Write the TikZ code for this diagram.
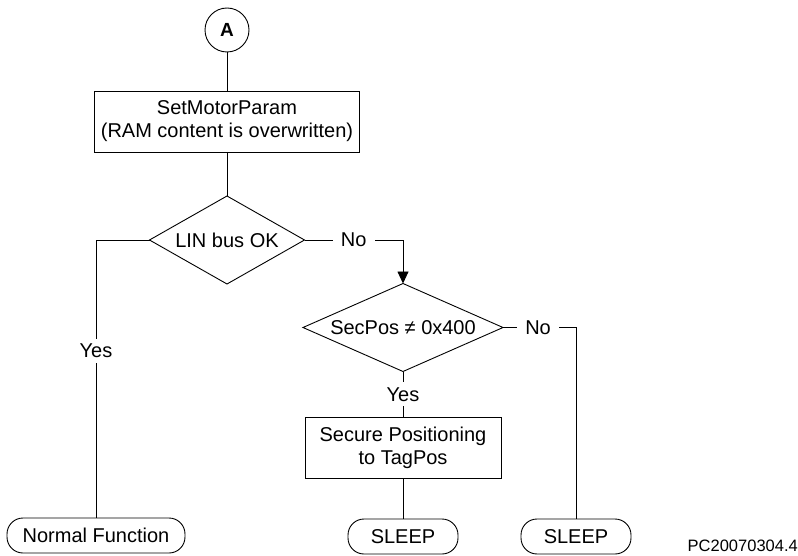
\documentclass[tikz,border=0pt]{standalone}
\usepackage{fontspec}
\setmainfont{Liberation Sans}
\usetikzlibrary{shapes.geometric,arrows.meta}

\tikzset{
  flow/.style={draw, line width=0.9pt, outer sep=0pt, inner sep=0pt,
               font=\fontsize{20}{23}\selectfont, align=center},
  connector/.style={circle, flow, minimum size=44pt,
               font=\fontsize{19}{22}\bfseries},
  procbox/.style={rectangle, flow},
  decision/.style={diamond, flow, aspect=2},
  terminal/.style={rectangle, flow, rounded corners=16pt, minimum height=35pt},
  link/.style={line width=0.9pt},
  arrowlink/.style={link, -{Triangle[length=12pt,width=11pt]}},
  edgelabel/.style={fill=white, inner xsep=8pt, inner ysep=5pt,
               font=\fontsize{20}{23}\selectfont}
}

\begin{document}
\begin{tikzpicture}[x=1pt, y=-1pt]
  \useasboundingbox (0,0) rectangle (798,556);

  % main column
  \node[connector] (A) at (227,30) {A};
  \node[procbox, minimum width=265pt, minimum height=61pt] (smp) at (227,121.5)
    {SetMotorParam\\(RAM content is overwritten)};
  \node[decision, minimum width=155pt, minimum height=88pt] (lin) at (227,240)
    {LIN bus OK};

  % right branch
  \node[decision, minimum width=200pt, minimum height=88pt] (sec) at (403,327.5)
    {SecPos ≠ 0x400};
  \node[procbox, minimum width=196pt, minimum height=61pt] (pos) at (403,447.5)
    {Secure Positioning\\to TagPos};

  % end states
  \node[terminal, minimum width=178pt] (nf) at (96,535.5) {Normal Function};
  \node[terminal, minimum width=110pt] (s1) at (403,536.5) {SLEEP};
  \node[terminal, minimum width=110pt] (s2) at (576,536.5) {SLEEP};

  % drawing reference
  \node[anchor=east, inner sep=0pt, font=\fontsize{16.5}{19}\selectfont] (ref)
    at (798,546) {PC20070304.4};

  % connectors
  \draw[link] (A.south) -- (smp.north);
  \draw[link] (smp.south) -- (lin.north);
  \draw[link] (lin.west) -| node[pos=0.7, edgelabel] {Yes} (nf.north);
  \draw[arrowlink] (lin.east) -| node[pos=0.25, edgelabel] {No} (sec.north);
  \draw[link] (sec.east) -| node[pos=0.24, edgelabel] {No} (s2.north);
  \draw[link] (sec.south) -- node[pos=0.5, edgelabel] {Yes} (pos.north);
  \draw[link] (pos.south) -- (s1.north);
\end{tikzpicture}
\end{document}
